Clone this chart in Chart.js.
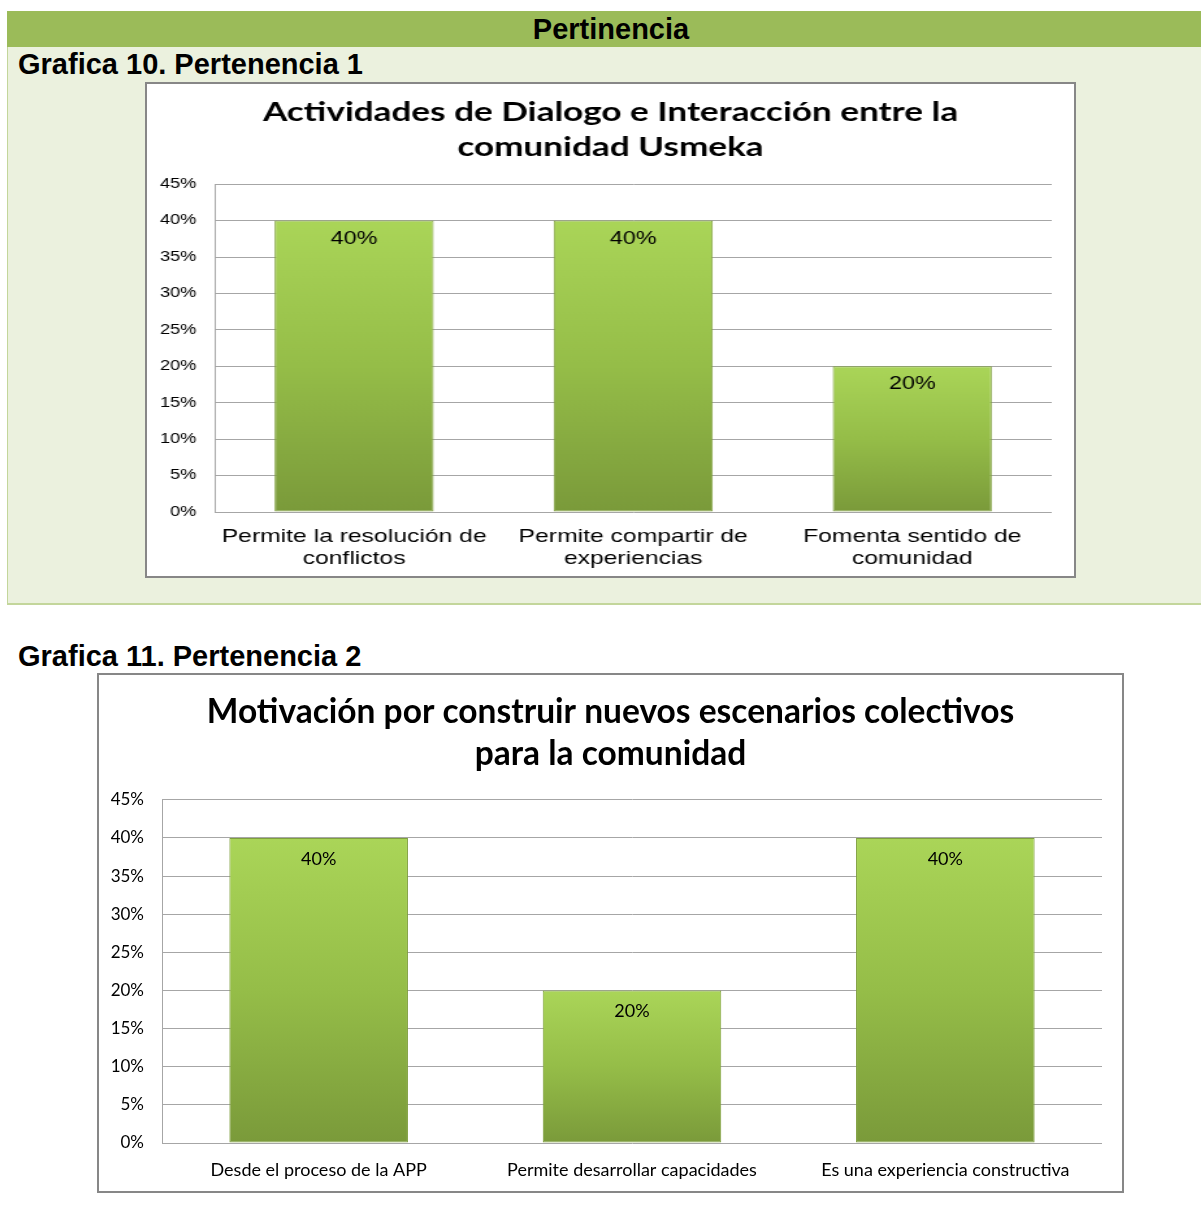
<!DOCTYPE html>
<html>
<head>
<meta charset="utf-8">
<script src="https://cdn.jsdelivr.net/npm/chart.js@4/dist/chart.umd.min.js"></script>
<style>
  body { margin: 0; background: #fff; width: 1201px; height: 1222px; position: relative; overflow: hidden; font-family: "Liberation Sans", Arial, sans-serif; }
  .band { position: absolute; left: 7px; top: 11px; width: 1194px; height: 36px; padding-left: 14px; box-sizing: border-box; background: #9bbb59; color: #000; font-weight: bold; font-size: 29px; text-align: center; line-height: 36px; }
  .panel { position: absolute; left: 7px; top: 47px; width: 1194px; height: 558px; background: #ebf1de; border-left: 1px solid #c3d69b; border-bottom: 2px solid #c3d69b; box-sizing: border-box; }
  .cap { position: absolute; left: 18px; font-weight: bold; font-size: 29px; color: #000; }
  .box { position: absolute; background: #fff; border: 2px solid #878787; box-sizing: border-box; overflow: hidden; }
  .box canvas { display: block; }
  .stretch { transform: scaleX(1.3); transform-origin: 0 0; width: 713px; }
</style>
</head>
<body>
<div class="band">Pertinencia</div>
<div class="panel"></div>
<div class="cap" style="top:48px">Grafica 10. Pertenencia 1</div>
<div class="box" style="left:145px;top:82px;width:931px;height:496px"><div class="stretch"><canvas id="chart1" width="713" height="492"></canvas></div></div>
<div class="cap" style="top:640px">Grafica 11. Pertenencia 2</div>
<div class="box" style="left:97px;top:673px;width:1027px;height:520px"><canvas id="chart2" width="1023" height="516"></canvas></div>

<script>
const $ = (id) => document.getElementById(id);

// Grafica 10
const title1 = ["Actividades de Dialogo e Interacción entre la", "comunidad Usmeka"];
const labels1 = [["Permite la resolución de", "conflictos"], ["Permite compartir de", "experiencias"], ["Fomenta sentido de", "comunidad"]];
const values1 = [0.40, 0.40, 0.20];

// Grafica 11
const title2 = ["Motivación por construir nuevos escenarios colectivos", "para la comunidad"];
const labels2 = ["Desde el proceso de la APP", "Permite desarrollar capacidades", "Es una experiencia constructiva"];
const values2 = [0.40, 0.20, 0.40];

const yTicks = [0, 0.05, 0.10, 0.15, 0.20, 0.25, 0.30, 0.35, 0.40, 0.45];

function pct(v) {
  return Math.round(v * 100) + "%";
}

function barFill(c) {
  const chart = c.chart;
  if (!chart.chartArea || c.type !== "data") return "#93bb47";
  const ys = chart.scales.y;
  const top = ys.getPixelForValue(c.raw);
  const bot = ys.getPixelForValue(0);
  const g = chart.ctx.createLinearGradient(0, top, 0, bot);
  g.addColorStop(0, "#aad558");
  g.addColorStop(0.5, "#95bd48");
  g.addColorStop(1, "#7a9a3a");
  return g;
}

// values written inside the top of each bar
const valueLabels = {
  id: "valueLabels",
  afterDatasetsDraw(chart, args, opts) {
    const ctx = chart.ctx;
    const meta = chart.getDatasetMeta(0);
    ctx.save();
    ctx.font = opts.font;
    ctx.fillStyle = "#000";
    ctx.textAlign = "center";
    ctx.textBaseline = "middle";
    meta.data.forEach((bar, i) => {
      ctx.fillText(pct(chart.data.datasets[0].data[i]), bar.x, bar.y + opts.offset);
    });
    ctx.restore();
  },
};

function makeChart(id, cfg) {
  return new Chart($(id).getContext("2d"), {
    type: "bar",
    data: {
      labels: cfg.labels,
      datasets: [{
        data: cfg.values,
        backgroundColor: barFill,
        borderColor: "#7f9f3e",
        borderWidth: 1,
        borderSkipped: false,
        categoryPercentage: 1,
        barPercentage: 0.57,
      }],
    },
    plugins: [valueLabels],
    options: {
      responsive: false,
      animation: false,
      layout: { padding: 0 },
      plugins: {
        legend: { display: false },
        tooltip: { enabled: false },
        title: {
          display: true,
          text: cfg.title,
          color: "#000",
          font: { family: cfg.titleFont, size: cfg.titleSize, weight: "bold", lineHeight: cfg.titleLH },
          padding: { top: cfg.titleTop, bottom: cfg.titleBottom },
        },
        valueLabels: { font: cfg.valueFont, offset: cfg.valueOffset },
      },
      scales: {
        x: {
          grid: { display: false, drawTicks: false },
          border: { display: false },
          ticks: { color: "#000", font: { family: cfg.catFont, size: cfg.catSize, lineHeight: cfg.catLH }, padding: cfg.catPad, maxRotation: 0, autoSkip: false },
          afterFit: (s) => { s.height = cfg.xHeight; },
        },
        y: {
          min: 0,
          max: 0.45,
          afterBuildTicks: (s) => { s.ticks = yTicks.map((v) => ({ value: v })); },
          grid: { color: "#a6a6a6", drawTicks: false, lineWidth: 1 },
          border: { display: true, color: "#a6a6a6" },
          ticks: { color: "#000", font: { family: cfg.tickFont, size: cfg.tickSize }, padding: cfg.tickPad, callback: (v) => pct(v) },
          afterFit: (s) => { s.width = cfg.yWidth; },
        },
        // empty right-hand strip so the title stays centred on the whole box
        yr: {
          type: "linear",
          position: "right",
          grid: { display: false, drawTicks: false },
          border: { display: false },
          ticks: { display: false },
          afterFit: (s) => { s.width = cfg.right; },
        },
      },
    },
  });
}

makeChart("chart1", {
  labels: labels1, values: values1, title: title1,
  titleFont: "Lato", titleSize: 27, titleLH: 1.3, titleTop: 11, titleBottom: 19,
  catFont: "Liberation Sans", catSize: 19, catLH: 1.15, catPad: 14, xHeight: 64,
  tickFont: "Liberation Sans", tickSize: 14, tickPad: 14, yWidth: 52, right: 17,
  valueFont: "18px 'Liberation Sans'", valueOffset: 18,
});

makeChart("chart2", {
  labels: labels2, values: values2, title: title2,
  titleFont: "Lato", titleSize: 33.5, titleLH: 1.25, titleTop: 16, titleBottom: 25,
  catFont: "Lato", catSize: 18, catLH: 1.2, catPad: 16, xHeight: 48,
  tickFont: "Lato", tickSize: 17, tickPad: 18, yWidth: 63, right: 20,
  valueFont: "18px Lato", valueOffset: 21,
});
</script>
</body>
</html>
